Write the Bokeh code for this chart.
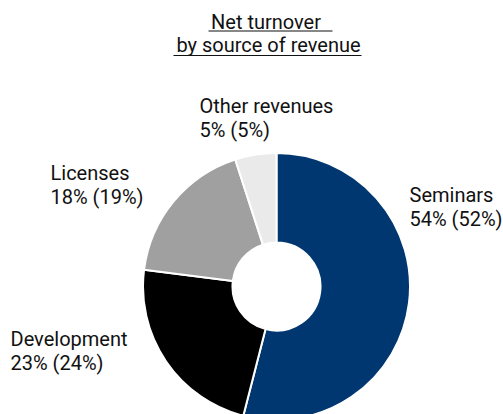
import numpy as np
from bokeh.plotting import figure
from bokeh.models import Range1d, ColumnDataSource
from bokeh.core.properties import value
from bokeh.embed import file_html
from bokeh.resources import INLINE

# Data
categories = ["Seminars", "Development", "Licenses", "Other revenues"]
shares = [54, 23, 18, 5]
prev_shares = [52, 24, 19, 5]
colors = ["#003770", "#000000", "#A0A0A0", "#EAEAEA"]
title_lines = ["Net turnover ", "by source of revenue"]

W, H = 503, 414
p = figure(width=W, height=H, output_backend="svg", toolbar_location=None,
           x_range=Range1d(0, W), y_range=Range1d(0, H),
           min_border=0)
p.axis.visible = False
p.grid.visible = False
p.outline_line_color = None
p.background_fill_color = "white"

def py(img_y):
    return H - img_y

BOFF = 7  # baseline correction

# donut
fr = np.array(shares, dtype=float) / sum(shares)
cum = np.concatenate([[0], np.cumsum(fr)])
start = np.pi / 2 - cum[:-1] * 2 * np.pi
end = np.pi / 2 - cum[1:] * 2 * np.pi
src = ColumnDataSource(dict(start=start, end=end, color=colors))
cx, cy = 276, py(286)
p.annular_wedge(x=cx, y=cy, inner_radius=44, outer_radius=133.5,
                start_angle="start", end_angle="end", direction="clock",
                fill_color="color", line_color="white", line_width=2, source=src)

font = value("Roboto")

# labels: (x, baseline of first line)
label_pos = [(409, 201), (10, 345), (50, 179), (199, 112)]
xs, ys, txt = [], [], []
for (lx, ly), c, s, ps in zip(label_pos, categories, shares, prev_shares):
    xs += [lx, lx]
    ys += [py(ly - BOFF), py(ly + 24 - BOFF)]
    txt += [c, f"{s}% ({ps}%)"]
p.text(x=xs, y=ys, text=txt, text_font=font, text_font_size="20px",
       text_color="#111111", text_baseline="alphabetic", text_align="left")

# title
p.text(x=[268, 268], y=[py(28 - BOFF), py(51 - BOFF)], text=title_lines, text_font=font,
       text_font_size="20px", text_color="#111111", text_baseline="alphabetic",
       text_align="center")
p.segment(x0=[208, 173], y0=[py(30.5), py(55)], x1=[332, 361], y1=[py(30.5), py(55)],
          line_color="#111111", line_width=1.2)

open("out.html", "w").write(file_html(p, INLINE))
